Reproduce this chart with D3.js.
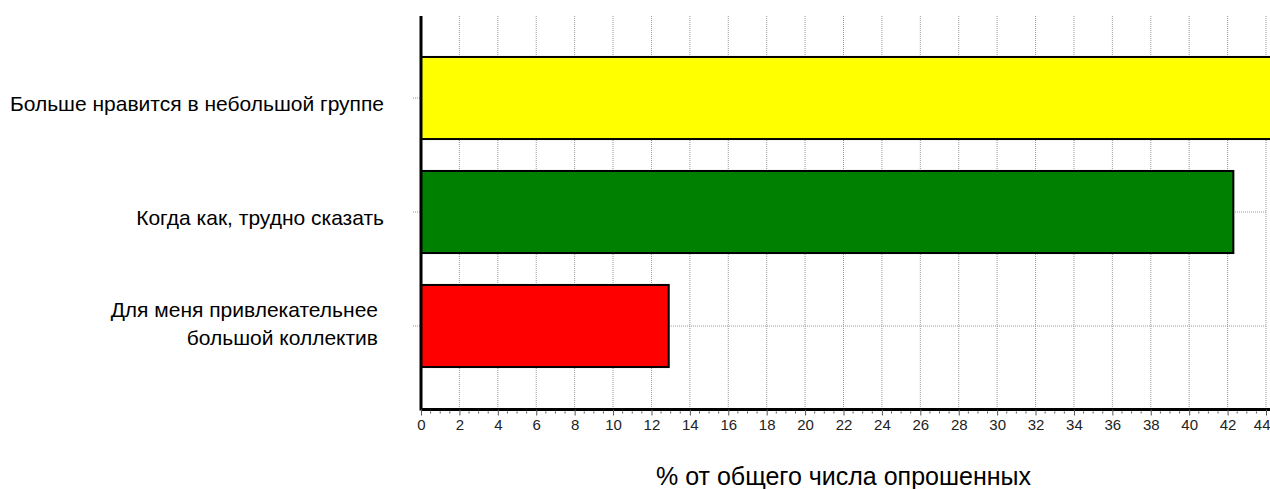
<!DOCTYPE html>
<html><head><meta charset="utf-8">
<script src="https://cdn.jsdelivr.net/npm/d3@7"></script>
<style>body{margin:0;background:#fff}svg{display:block}text{font-family:"Liberation Sans",Arial,sans-serif}</style>
</head><body><div id="c"></div>
<script>
const categories = [["Больше нравится в небольшой группе"],["Когда как, трудно сказать"],["Для меня привлекательнее","большой коллектив"]];
const values = [44.9, 42.3, 12.9];
const colors = ["#ffff00","#008000","#ff0000"];
const tickValues = d3.range(0, 45, 2);
const axisTitle = "% от общего числа опрошенных";

const W=1270,H=489;
const svg=d3.select("#c").append("svg").attr("width",W).attr("height",H);
const x=d3.scaleLinear().domain([0,44]).range([421,1266]);
const y=d3.scaleBand().domain(d3.range(categories.length)).range([41,383]).paddingInner(0.28).paddingOuter(0.14);
const plotTop=16,plotBottom=409.5;

// vertical grid
svg.append("g").selectAll("line").data(tickValues.filter(d=>d>0)).join("line")
 .attr("x1",d=>x(d)).attr("x2",d=>x(d)).attr("y1",plotTop).attr("y2",plotBottom)
 .attr("stroke","#999").attr("stroke-dasharray","1,1");
// horizontal grid at category centers
svg.append("g").selectAll("line").data(d3.range(categories.length)).join("line")
 .attr("x1",x(0)-8).attr("x2",x(44)).attr("y1",d=>y(d)+y.bandwidth()/2).attr("y2",d=>y(d)+y.bandwidth()/2)
 .attr("stroke","#999").attr("stroke-dasharray","1,1");
// bars
svg.append("g").selectAll("rect").data(values).join("rect")
 .attr("x",x(0)).attr("y",(d,i)=>y(i)).attr("width",d=>x(d)-x(0)).attr("height",y.bandwidth())
 .attr("fill",(d,i)=>colors[i]).attr("stroke","#000").attr("stroke-width",2);
// y axis line
svg.append("line").attr("x1",421).attr("x2",421).attr("y1",plotTop).attr("y2",plotBottom+1).attr("stroke","#000").attr("stroke-width",3);
// x axis
const ax=svg.append("g").attr("transform",`translate(0,${plotBottom})`)
 .call(d3.axisBottom(x).tickValues(tickValues).tickFormat(d3.format("d")).tickSize(6).tickPadding(4));
ax.attr("font-size",15);
ax.select(".domain").attr("stroke","#000").attr("stroke-width",3).attr("d",`M${x(0)},0H${W}`);
ax.selectAll(".tick line").attr("stroke","#555");
ax.selectAll(".tick text").style("font-size","15px").attr("fill","#222")
 .style("font-family","'Liberation Sans Narrow','Arial Narrow','Liberation Sans',Arial,sans-serif");
ax.selectAll(".tick text").filter(d=>d===44).attr("text-anchor","end").attr("dx",4);
svg.append("g").attr("transform",`translate(0,${plotBottom})`).selectAll("line")
 .data(d3.range(0,44.01,0.5).filter(d=>d%2!==0)).join("line")
 .attr("x1",d=>x(d)).attr("x2",d=>x(d)).attr("y1",2).attr("y2",4).attr("stroke","#555");
// category labels
const lg=svg.append("g");
categories.forEach((lines,i)=>{
 const cy=y(i)+y.bandwidth()/2;
 const n=lines.length, lh=28;
 const t=lg.append("text").attr("text-anchor","end").attr("font-size",21).attr("fill","#000");
 lines.forEach((s,j)=>{
  t.append("tspan").attr("x",n>1?378:384).attr("y",cy+13-8*(n-1)+(j-(n-1)/2)*lh).text(s);
 });
});
// title
svg.append("text").attr("x",(x(0)+x(44))/2).attr("y",485).attr("text-anchor","middle")
 .attr("font-size",25).attr("fill","#000").text(axisTitle);
</script></body></html>
